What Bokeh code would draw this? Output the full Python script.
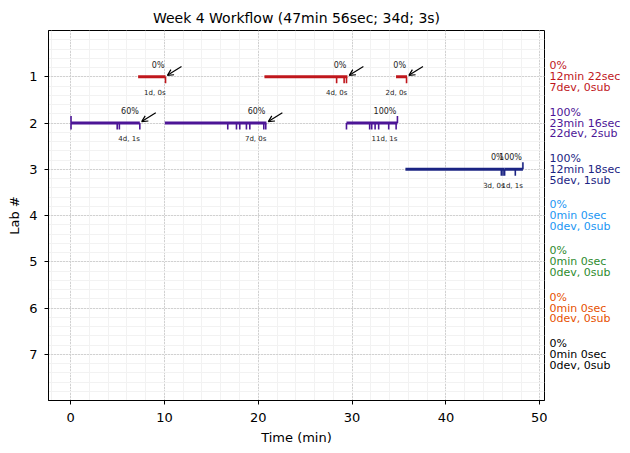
from bokeh.plotting import figure
from bokeh.layouts import row
from bokeh.models import Range1d, FixedTicker, Arrow, OpenHead, ColumnDataSource
from bokeh.core.properties import value
from bokeh.embed import file_html
from bokeh.resources import INLINE
import numpy as np

title = "Week 4 Workflow (47min 56sec; 34d; 3s)"
labs = [1, 2, 3, 4, 5, 6, 7]
lab_colors = ["#c0171c", "#4c1596", "#1b2483", "#2196f3", "#2e8b2e", "#e65100", "#000000"]
lab_pct = ["0%", "100%", "100%", "0%", "0%", "0%", "0%"]
lab_time = ["12min 22sec", "23min 16sec", "12min 18sec", "0min 0sec", "0min 0sec", "0min 0sec", "0min 0sec"]
lab_devsub = ["7dev, 0sub", "22dev, 2sub", "5dev, 1sub", "0dev, 0sub", "0dev, 0sub", "0dev, 0sub", "0dev, 0sub"]

sess_lab = [1, 1, 1, 2, 2, 2, 3, 3]
sess_start = [7.2, 20.66, 34.68, 0.05, 10.04, 29.4, 35.68, 46.25]
sess_end = [10.12, 29.5, 35.85, 7.38, 20.87, 34.83, 46.25, 48.2]
sess_pct = ["0%", "0%", "0%", "60%", "60%", "100%", "0%", "100%"]
sess_dev = ["1d, 0s", "4d, 0s", "2d, 0s", "4d, 1s", "7d, 0s", "11d, 1s", "3d, 0s", "1d, 1s"]
sess_arrow = [True, True, True, True, True, False, False, False]

dev_lab = [1, 1, 1, 1, 1,
           2, 2, 2, 2, 2, 2, 2, 2, 2, 2, 2, 2, 2, 2, 2, 2, 2, 2,
           3, 3, 3, 3]
dev_x = [10.12, 28.35, 29.15, 29.4, 35.8,
         0.05, 4.97, 5.2, 7.38, 16.75, 17.68, 18.03, 18.74, 19.1, 20.59, 20.8,
         29.4, 31.87, 32.09, 32.45, 32.83, 33.9, 34.69,
         45.9, 46.08, 46.25, 47.39]
sub_lab = [2, 2, 3]
sub_x = [0.05, 34.83, 48.2]

FONT = "DejaVu Sans"

yr = Range1d(8, 0)
p = figure(width=547, height=453, output_backend="svg", toolbar_location=None,
           x_range=Range1d(-2.35, 50.5), y_range=yr,
           min_border_left=48, min_border_right=3, min_border_top=30, min_border_bottom=53)
p.title.text = title
p.title.text_font = FONT
p.title.text_font_size = "14px"
p.title.text_font_style = "normal"
p.title.text_color = "black"
p.title.align = "center"
p.title.offset = 0
p.title.standoff = 10

p.outline_line_color = "black"
p.outline_line_width = 1
p.outline_line_alpha = 1

p.xaxis.ticker = FixedTicker(ticks=[0, 10, 20, 30, 40, 50], minor_ticks=list(np.arange(-2, 51, 2)))
p.yaxis.ticker = FixedTicker(ticks=[1, 2, 3, 4, 5, 6, 7], minor_ticks=list(np.round(np.arange(0, 8.01, 0.2), 2)))
for ax in (p.xaxis[0], p.yaxis[0]):
    ax.axis_line_color = "black"
    ax.major_tick_line_color = "black"
    ax.major_tick_out = 4
    ax.major_tick_in = 0
    ax.minor_tick_line_color = None
    ax.major_label_text_font = FONT
    ax.major_label_text_font_size = "13px"
    ax.major_label_text_color = "black"
    ax.axis_label_text_font = FONT
    ax.axis_label_text_font_size = "13px"
    ax.axis_label_text_font_style = "normal"
    ax.axis_label_text_color = "black"
p.xaxis.axis_label = "Time (min)"
p.yaxis.axis_label = "Lab #"
p.xaxis.axis_label_standoff = 5
p.yaxis.axis_label_standoff = 4
p.xaxis.major_label_standoff = 8
p.yaxis.major_label_standoff = 7

for g in (p.xgrid[0], p.ygrid[0]):
    g.grid_line_color = "#b0b0b0"
    g.grid_line_dash = "1 2"
    g.grid_line_width = 1
    g.minor_grid_line_color = "#f2f2f2"
    g.minor_grid_line_width = 1

# session lines
seg_src = ColumnDataSource(dict(
    x0=sess_start, x1=sess_end, y=sess_lab,
    c=[lab_colors[l - 1] for l in sess_lab]))
p.segment(x0="x0", y0="y", x1="x1", y1="y", color="c", line_width=3, source=seg_src)

# device ticks (downward)
dev_src = ColumnDataSource(dict(
    x=dev_x, y0=dev_lab, y1=[l + 0.14 for l in dev_lab],
    c=[lab_colors[l - 1] for l in dev_lab]))
p.segment(x0="x", y0="y0", x1="x", y1="y1", color="c", line_width=1.6, source=dev_src)

# submission ticks (upward)
sub_src = ColumnDataSource(dict(
    x=sub_x, y0=sub_lab, y1=[l - 0.15 for l in sub_lab],
    c=[lab_colors[l - 1] for l in sub_lab]))
p.segment(x0="x", y0="y0", x1="x", y1="y1", color="c", line_width=1.6, source=sub_src)

# labels
txt_src = ColumnDataSource(dict(
    x=sess_end, yp=[l - 0.15 for l in sess_lab], yd=[l + 0.27 for l in sess_lab],
    pct=sess_pct, dev=sess_dev))
p.text(x="x", y="yp", text="pct", source=txt_src, text_align="right", text_baseline="bottom",
       text_font=value(FONT), text_font_size="8px", text_color="#222222", x_offset=-1)
p.text(x="x", y="yd", text="dev", source=txt_src, text_align="right", text_baseline="top",
       text_font=value(FONT), text_font_size="7px", text_color="#222222")

for lab, xe, ar in zip(sess_lab, sess_end, sess_arrow):
    if ar:
        p.add_layout(Arrow(end=OpenHead(size=6, line_width=1.2, line_color="black"),
                           x_start=xe + 1.7, y_start=lab - 0.22,
                           x_end=xe + 0.2, y_end=lab - 0.03,
                           line_color="black", line_width=1.2))

# right-side summary panel
q = figure(width=83, height=453, output_backend="svg", toolbar_location=None,
           x_range=Range1d(0, 83), y_range=yr,
           min_border_left=0, min_border_right=0, min_border_top=30, min_border_bottom=53)
q.axis.visible = False
q.grid.visible = False
q.outline_line_color = None
sum_src = ColumnDataSource(dict(
    x=[2] * len(labs),
    y0=[l - 0.235 for l in labs], y1=labs, y2=[l + 0.235 for l in labs],
    a=lab_pct, b=lab_time, d=lab_devsub, c=lab_colors))
for ycol, tcol in (("y0", "a"), ("y1", "b"), ("y2", "d")):
    q.text(x="x", y=ycol, text=tcol, source=sum_src, text_color="c",
           text_font=value(FONT), text_font_size="11px",
           text_align="left", text_baseline="middle")

layout = row(p, q, spacing=0)
open("out.html", "w").write(file_html(layout, INLINE))
